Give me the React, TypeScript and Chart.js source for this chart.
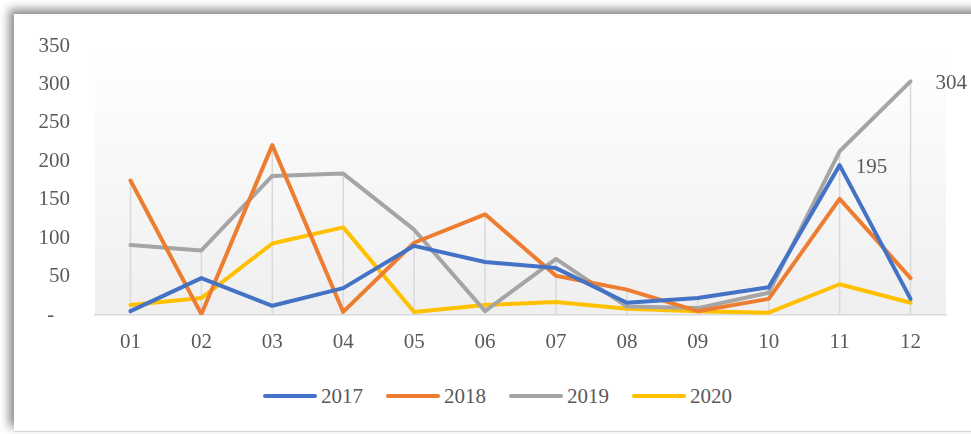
import React, { useEffect, useRef } from "react";
import { Chart, registerables } from "chart.js";

Chart.register(...registerables);

const months = ["01", "02", "03", "04", "05", "06", "07", "08", "09", "10", "11", "12"];
const seriesNames = ["2017", "2018", "2019", "2020"];
const values2017 = [5, 48, 12, 35, 90, 69, 61, 16, 22, 36, 195, 21];
const values2018 = [175, 1, 221, 4, 94, 131, 51, 33, 5, 21, 151, 48];
const values2019 = [91, 84, 181, 184, 111, 5, 73, 11, 9, 29, 213, 304];
const values2020 = [13, 22, 93, 114, 4, 13, 17, 8, 5, 3, 40, 16];
const seriesColors = ["#4472C4", "#ED7D31", "#A5A5A5", "#FFC000"];
const yMax = 350;
const yStep = 50;
// labelled points: [series index, category index]
const labelledPoints: [number, number][] = [
  [2, 11],
  [0, 10],
];

const FONT_FAMILY = "'Liberation Serif', 'Times New Roman', serif";
const TEXT_COLOR = "#595959";
const FONT_SIZE = 21;
const LABEL_DX = [25, 16];

const bgPlugin = {
  id: "plotBg",
  beforeDraw(chart: any) {
    const { ctx, chartArea } = chart;
    if (!chartArea) return;
    const g = ctx.createLinearGradient(0, chartArea.top, 0, chartArea.bottom);
    g.addColorStop(0, "#ffffff");
    g.addColorStop(1, "#efefef");
    ctx.save();
    ctx.fillStyle = g;
    ctx.fillRect(chartArea.left, chartArea.top, chartArea.right - chartArea.left, chartArea.bottom - chartArea.top);
    ctx.restore();
  },
};

const dropLinePlugin = {
  id: "dropLines",
  beforeDatasetsDraw(chart: any) {
    const { ctx } = chart;
    const x = chart.scales.x;
    const y = chart.scales.y;
    ctx.save();
    ctx.strokeStyle = "#d9d9d9";
    ctx.lineWidth = 1.5;
    months.forEach((_, i) => {
      let m = 0;
      chart.data.datasets.forEach((ds: any) => {
        m = Math.max(m, ds.data[i]);
      });
      const px = x.getPixelForValue(i);
      ctx.beginPath();
      ctx.moveTo(px, y.getPixelForValue(m));
      ctx.lineTo(px, y.getPixelForValue(0));
      ctx.stroke();
    });
    ctx.restore();
  },
};

const dataLabelPlugin = {
  id: "dataLabels",
  afterDatasetsDraw(chart: any) {
    const { ctx } = chart;
    ctx.save();
    ctx.font = `${FONT_SIZE}px ${FONT_FAMILY}`;
    ctx.fillStyle = TEXT_COLOR;
    ctx.textAlign = "left";
    ctx.textBaseline = "middle";
    labelledPoints.forEach(([s, i], k) => {
      const pt = chart.getDatasetMeta(s).data[i];
      const v = chart.data.datasets[s].data[i];
      ctx.fillText(String(v), pt.x + LABEL_DX[k], pt.y + 2);
    });
    ctx.restore();
  },
};

export default function App() {
  const ref = useRef<HTMLCanvasElement | null>(null);

  useEffect(() => {
    if (!ref.current) return;
    const allValues = [values2017, values2018, values2019, values2020];
    const chart = new Chart(ref.current, {
      type: "line",
      data: {
        labels: months,
        datasets: seriesNames.map((name, k) => ({
          label: name,
          data: allValues[k],
          borderColor: seriesColors[k],
          backgroundColor: seriesColors[k],
          borderWidth: 4,
          pointRadius: 0,
          tension: 0,
          borderCapStyle: "round" as const,
          borderJoinStyle: "round" as const,
        })),
      },
      options: {
        responsive: false,
        animation: false,
        layout: { padding: { top: 46, right: 25, left: 0, bottom: 0 } },
        plugins: { legend: { display: false }, tooltip: { enabled: false } },
        scales: {
          x: {
            offset: true,
            grid: { display: false, drawTicks: false },
            border: { display: true, color: "#d9d9d9", width: 1.5 },
            ticks: { color: TEXT_COLOR, font: { family: FONT_FAMILY, size: FONT_SIZE }, padding: 15 },
            afterFit: (s: any) => {
              s.height = 55;
            },
          },
          y: {
            min: 0,
            max: yMax,
            grid: { display: false, drawTicks: false },
            border: { display: false },
            ticks: {
              stepSize: yStep,
              padding: 25,
              color: TEXT_COLOR,
              font: { family: FONT_FAMILY, size: FONT_SIZE },
              callback: (v: any) => (Number(v) === 0 ? "-   " : String(v)),
            },
            afterFit: (s: any) => {
              s.width = 95;
            },
          },
        },
      },
      plugins: [bgPlugin, dropLinePlugin, dataLabelPlugin],
    });
    return () => chart.destroy();
  }, []);

  return (
    <div style={{ position: "fixed", left: 0, top: 0, width: 971, height: 434, background: "#ffffff", overflow: "hidden" }}>
      <div
        style={{
          position: "absolute",
          left: 14,
          top: 14,
          right: -20,
          bottom: 2,
          background: "#ffffff",
          boxShadow: "-5px -5px 9px rgba(0,0,0,0.45)",
          borderBottom: "1px solid #d4d4d4",
        }}
      />
      <canvas ref={ref} width={971} height={370} style={{ position: "absolute", left: 0, top: 0, width: 971, height: 370 }} />
      <div
        style={{
          position: "absolute",
          left: 263,
          top: 383,
          height: 26,
          display: "flex",
          alignItems: "center",
          fontFamily: FONT_FAMILY,
          fontSize: FONT_SIZE,
          color: TEXT_COLOR,
          whiteSpace: "nowrap",
        }}
      >
        {seriesNames.map((name, k) => (
          <div key={name} style={{ display: "flex", alignItems: "center", marginRight: k < seriesNames.length - 1 ? 23 : 0 }}>
            <span style={{ display: "inline-block", width: 54, height: 4, borderRadius: 2, background: seriesColors[k], marginRight: 4 }} />
            <span>{name}</span>
          </div>
        ))}
      </div>
    </div>
  );
}
